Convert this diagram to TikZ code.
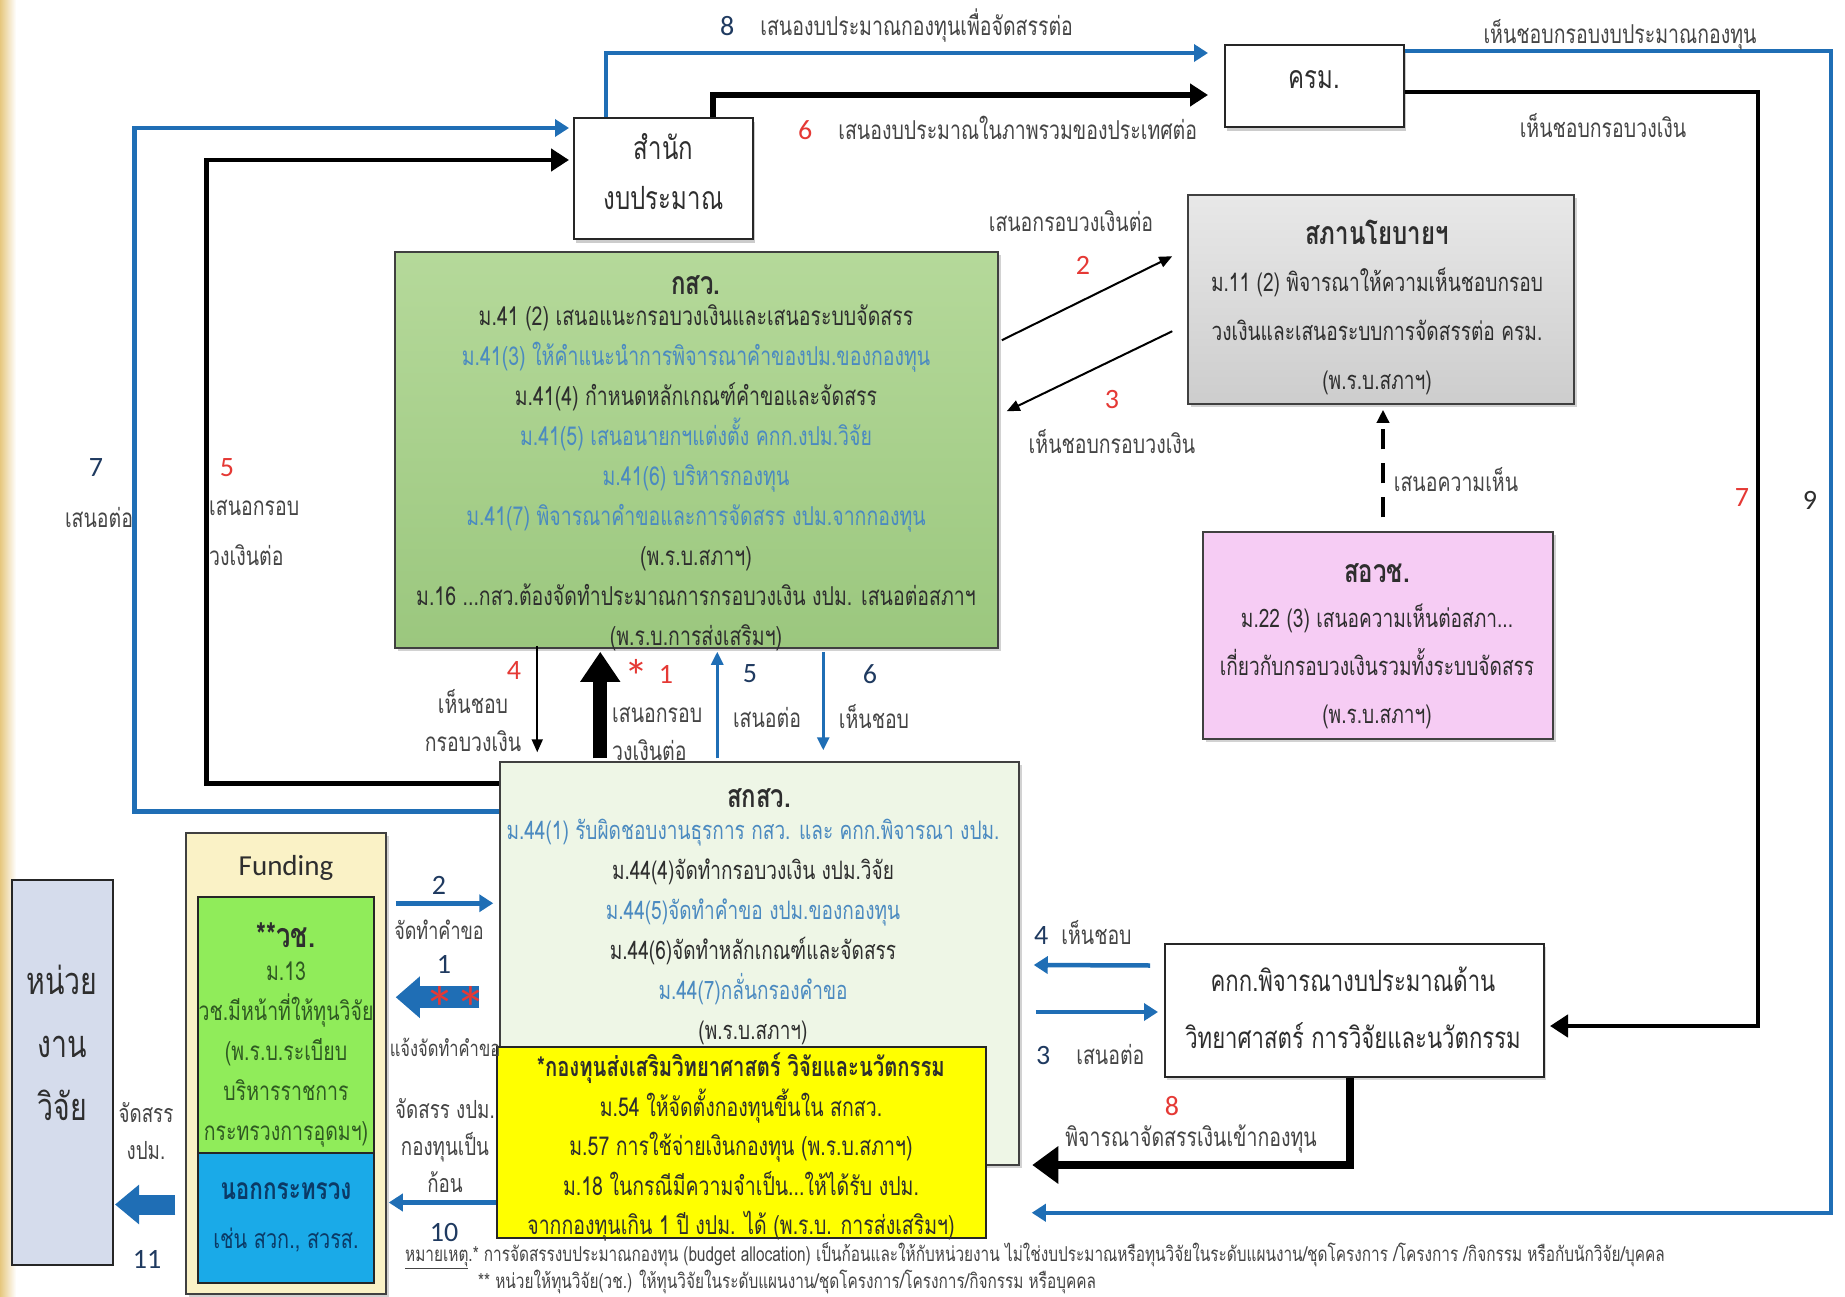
\documentclass[tikz,border=0pt]{standalone}
\usepackage{fontspec}
\setmainfont[Script=Thai,FakeStretch=0.75]{Loma}
\newfontfamily\lat{Carlito}
\usetikzlibrary{arrows.meta,calc,shadows}
\definecolor{lblue}{HTML}{1F6EB5}
\definecolor{tblue}{HTML}{4B8AC0}
\definecolor{tdark}{HTML}{2E2E2E}
\definecolor{tgray}{HTML}{454545}
\definecolor{tred}{HTML}{E53935}
\definecolor{tnavy}{HTML}{1F3A60}
\definecolor{kswtop}{HTML}{B5D99A}
\definecolor{kswbot}{HTML}{9BC77E}
\definecolor{graytop}{HTML}{E8E8E8}
\definecolor{graybot}{HTML}{CDCDCD}
\definecolor{pink1}{HTML}{F6CCF4}
\definecolor{pale}{HTML}{EEF6E6}
\definecolor{yel}{HTML}{FFFF00}
\definecolor{beige}{HTML}{FAF2C6}
\definecolor{wcgreen}{HTML}{90EC5A}
\definecolor{wctext}{HTML}{2F5A22}
\definecolor{nokblue}{HTML}{1AAAE8}
\definecolor{noktext}{HTML}{0B3A66}
\definecolor{lav}{HTML}{D5DCEC}
\definecolor{gold}{HTML}{E6C77E}
\tikzset{
  boxbase/.style={draw=black!75, line width=1.5pt, inner sep=0pt,
    drop shadow={shadow xshift=3pt,shadow yshift=-3pt,opacity=0.35}},
  flatbox/.style={draw=black!85, line width=2pt, inner sep=0pt},
  body/.style={font=\fontsize{26}{40}\selectfont, text=tdark, align=center, inner sep=0pt},
  ttl/.style={font=\bfseries\fontsize{32}{34}\selectfont, text=tdark, align=center, inner sep=0pt},
  lbl/.style={font=\fontsize{26}{38}\selectfont, text=tgray, align=center, inner sep=0pt},
  num/.style={font=\lat\fontsize{28}{30}\selectfont, inner sep=0pt},
  bl/.style={draw=lblue, line width=4.5pt, -{Triangle[length=14pt,width=17pt]}},
  bk/.style={draw=black, line width=6.5pt, -{Triangle[length=18pt,width=22pt]}},
  thinarr/.style={draw=black, line width=2pt, -{Triangle[length=13pt,width=11pt]}},
  starnode/.style={text=tred, inner sep=0pt, anchor=base, text height=0pt, text depth=0pt},
}
\begin{document}
\begin{tikzpicture}[x=1pt,y=-1pt]
\useasboundingbox (0,0) rectangle (1845,1297);
\fill[white] (0,0) rectangle (1845,1297);
\shade[left color=gold, right color=white] (0,0) rectangle (16,1297);

% ---------- boxes ----------
\node[flatbox, fill=white, minimum width=179pt, minimum height=121pt,
  drop shadow={shadow xshift=2pt,shadow yshift=-4pt,opacity=0.4}] (sumnak) at (663.5,178.5) {};
\node[flatbox, fill=white, minimum width=179pt, minimum height=82pt,
  drop shadow={shadow xshift=2pt,shadow yshift=-4pt,opacity=0.4}] (krm) at (1314.5,86) {};
\node[boxbase, top color=graytop, bottom color=graybot, minimum width=386pt, minimum height=209pt] (sapha) at (1381,299.5) {};
\node[boxbase, top color=kswtop, bottom color=kswbot, minimum width=603pt, minimum height=396pt] (ksw) at (696.5,450) {};
\node[boxbase, fill=pink1, minimum width=350pt, minimum height=207pt] (sorwor) at (1378,635.5) {};
\node[boxbase, fill=pale, minimum width=519pt, minimum height=403pt] (soksw) at (759.5,963.5) {};
\node[flatbox, fill=yel, line width=2.5pt, minimum width=489pt, minimum height=191pt] (yellow) at (741.5,1142.5) {};
\node[flatbox, fill=white, minimum width=379pt, minimum height=133pt,
  drop shadow={shadow xshift=2pt,shadow yshift=-3pt,opacity=0.3}] (kkk) at (1354.5,1010.5) {};
\node[boxbase, fill=beige, minimum width=200pt, minimum height=461pt] (funding) at (286,1063.5) {};
\node[flatbox, fill=wcgreen, minimum width=176pt, minimum height=256pt] (wc) at (286,1025) {};
\node[flatbox, fill=nokblue, minimum width=176pt, minimum height=130pt] (nok) at (286,1218) {};
\node[flatbox, fill=lav, minimum width=101pt, minimum height=385pt] (nuay) at (62.5,1072.5) {};

% ---------- box texts ----------
\node[font=\fontsize{32}{50}\selectfont, text=tdark, align=center, inner sep=0pt] (sumnak-t) at (663.5,172) {สำนัก\\งบประมาณ};
\node[font=\fontsize{32}{34}\selectfont, text=tdark, inner sep=0pt] (krm-t) at (1314,80) {ครม.};

\node[ttl] (ksw-h) at (696,285) {กสว.};
\node[body] (ksw-t) at (696,478) {ม.41 (2) เสนอแนะกรอบวงเงินและเสนอระบบจัดสรร\\
{\color{tblue}ม.41(3) ให้คำแนะนำการพิจารณาคำของปม.ของกองทุน}\\
ม.41(4) กำหนดหลักเกณฑ์คำขอและจัดสรร\\
{\color{tblue}ม.41(5) เสนอนายกฯแต่งตั้ง คกก.งปม.วิจัย}\\
{\color{tblue}ม.41(6) บริหารกองทุน}\\
{\color{tblue}ม.41(7) พิจารณาคำขอและการจัดสรร งปม.จากกองทุน}\\
(พ.ร.บ.สภาฯ)\\
ม.16 ...กสว.ต้องจัดทำประมาณการกรอบวงเงิน งปม. เสนอต่อสภาฯ\\
(พ.ร.บ.การส่งเสริมฯ)};

\node[ttl] (sapha-h) at (1377,232) {สภานโยบายฯ};
\node[body, font=\fontsize{25.5}{49}\selectfont] (sapha-t) at (1377,331) {ม.11 (2) พิจารณาให้ความเห็นชอบกรอบ\\วงเงินและเสนอระบบการจัดสรรต่อ ครม.\\(พ.ร.บ.สภาฯ)};

\node[ttl] (sorwor-h) at (1377,573) {สอวช.};
\node[body, font=\fontsize{25.5}{48}\selectfont] (sorwor-t) at (1377,666) {ม.22 (3) เสนอความเห็นต่อสภา...\\เกี่ยวกับกรอบวงเงินรวมทั้งระบบจัดสรร\\(พ.ร.บ.สภาฯ)};

\node[ttl] (soksw-h) at (759,798) {สกสว.};
\node[body, font=\fontsize{25.4}{40}\selectfont] (soksw-t) at (753,932) {{\color{tblue}ม.44(1) รับผิดชอบงานธุรการ กสว. และ คกก.พิจารณา งปม.}\\
ม.44(4)จัดทำกรอบวงเงิน งปม.วิจัย\\
{\color{tblue}ม.44(5)จัดทำคำขอ งปม.ของกองทุน}\\
ม.44(6)จัดทำหลักเกณฑ์และจัดสรร\\
{\color{tblue}ม.44(7)กลั่นกรองคำขอ}\\
(พ.ร.บ.สภาฯ)};

\node[ttl, font=\bfseries\fontsize{27}{30}\selectfont] (yellow-h) at (741,1068) {*กองทุนส่งเสริมวิทยาศาสตร์ วิจัยและนวัตกรรม};
\node[body, font=\fontsize{26}{39.5}\selectfont] (yellow-t) at (741,1165) {ม.54 ให้จัดตั้งกองทุนขึ้นใน สกสว.\\
ม.57 การใช้จ่ายเงินกองทุน (พ.ร.บ.สภาฯ)\\
ม.18 ในกรณีมีความจำเป็น...ให้ได้รับ งปม.\\
จากกองทุนเกิน 1 ปี งปม. ได้ (พ.ร.บ. การส่งเสริมฯ)};

\node[font=\lat\fontsize{29}{30}\selectfont, text=tdark, inner sep=0pt] (funding-t) at (286,868) {Funding};
\node[ttl, font=\bfseries\fontsize{34}{34}\selectfont] (wc-h) at (286,935) {**วช.};
\node[body, text=wctext, font=\fontsize{26}{40}\selectfont] (wc-t) at (286,1055) {ม.13\\วช.มีหน้าที่ให้ทุนวิจัย\\(พ.ร.บ.ระเบียบ\\บริหารราชการ\\กระทรวงการอุดมฯ)};
\node[ttl, text=noktext, font=\bfseries\fontsize{30}{30}\selectfont] (nok-h) at (286,1191) {นอกกระทรวง};
\node[body, text=noktext, font=\fontsize{26.5}{30}\selectfont] (nok-t) at (286,1240) {เช่น สวก., สวรส.};

\node[font=\fontsize{38}{63}\selectfont, text=tdark, align=center, inner sep=0pt] (nuay-t) at (62,1043) {หน่วย\\งาน\\วิจัย};
\node[font=\fontsize{29.5}{57}\selectfont, text=tdark, align=center, inner sep=0pt] (kkk-t) at (1353,1008) {คกก.พิจารณางบประมาณด้าน\\วิทยาศาสตร์ การวิจัยและนวัตกรรม};

% ---------- connectors ----------
\draw[bl] ($(sumnak.north west)+(33,0)$) |- ($(krm.north west)+(-16,9)$);
\draw[bk] ($(sumnak.north west)+(140,0)$) |- ($(krm.north west)+(-16,51)$);
\draw[bl] ($(soksw.north west)+(0,50)$) -- ($(soksw.north west)+(-365,50)$) |- ($(sumnak.north west)+(-4,11)$);
\draw[bk, line width=4.5pt] ($(soksw.north west)+(0,22)$) -- ($(soksw.north west)+(-293,22)$) |- ($(sumnak.north west)+(-4,43)$);
\draw[bl] ($(krm.north east)+(0,7)$) -- ($(krm.north east)+(426,7)$) |- ($(soksw.south east)+(12,47)$);
\draw[bk, line width=4.5pt] ($(krm.east)+(0,6)$) -- ($(krm.east)+(353,6)$) |- ($(kkk.east)+(5,15.5)$);

\draw[thinarr] ($(ksw.north east)+(3,89)$) -- ($(sapha.north west)+(-15,62)$);
\draw[thinarr] ($(sapha.north west)+(-15,137)$) -- ($(ksw.north east)+(8,160)$);
\draw[draw=black, line width=4pt, dash pattern=on 20pt off 14pt, -{Triangle[length=13pt,width=12pt]}] ($(sorwor.north)+(5,-14)$) -- ($(sapha.south)+(2,5)$);

\draw[thinarr] ($(ksw.south west)+(143,-3)$) -- ($(soksw.north west)+(38,-9)$);
\draw[draw=black, line width=14pt, -{Triangle[length=30pt,width=38pt]}] ($(soksw.north west)+(101,-3)$) -- ($(ksw.south west)+(206,3)$);
\draw[draw=lblue, line width=3pt, -{Triangle[length=13pt,width=12pt]}] ($(soksw.north west)+(218,-3)$) -- ($(ksw.south west)+(323,3)$);
\draw[draw=lblue, line width=3pt, -{Triangle[length=13pt,width=12pt]}] ($(ksw.south west)+(429,3)$) -- ($(soksw.north west)+(324,-11)$);

\draw[bl] ($(funding.north east)+(9,71)$) -- ($(soksw.north west)+(-6,142)$);
\draw[draw=lblue, line width=22pt, -{Triangle[length=24pt,width=40pt]}] ($(soksw.north west)+(-20,236)$) -- ($(funding.north east)+(9,165)$);
\draw[bl] ($(yellow.west)+(0,60)$) -- ($(funding.east)+(2,139)$);
\draw[draw=lblue, line width=20pt, -{Triangle[length=24pt,width=38pt]}] ($(funding.west)+(-10,141)$) -- ($(nuay.east)+(1,132)$);

\draw[bl] ($(kkk.west)+(-14,-45)$) -- ($(soksw.east)+(14,1.5)$);
\draw[bl] ($(soksw.east)+(16,48.5)$) -- ($(kkk.west)+(-6,1.5)$);
\draw[draw=black, line width=8pt, -{Triangle[length=26pt,width=36pt]}] ($(kkk.south west)+(186,0)$) |- ($(yellow.east)+(45,22.5)$);

% ---------- labels ----------
\node[lbl, anchor=west] (l8top) at (720,26) {{\lat\fontsize{28}{30}\selectfont\color{tnavy}8}\quad เสนองบประมาณกองทุนเพื่อจัดสรรต่อ};
\node[lbl, anchor=west] (l6top) at (798,128) {{\lat\fontsize{28}{30}\selectfont\color{tred}6}\quad เสนองบประมาณในภาพรวมของประเทศต่อ};
\node[lbl] (l9txt) at (1620,35) {เห็นชอบกรอบงบประมาณกองทุน};
\node[lbl] (l7txt) at (1603,126) {เห็นชอบกรอบวงเงิน};
\node[num, text=tred] (n7r) at (1742,498) {7};
\node[num, text=tdark] (n9r) at (1810,500) {9};

\node[num, text=tnavy] (n7l) at (96,468) {7};
\node[lbl] (l7l) at (99,518) {เสนอต่อ};
\node[num, text=tred] (n5l) at (227,468) {5};
\node[lbl, anchor=north west, align=left, font=\fontsize{26}{50}\selectfont] (l5l) at (209,500) {เสนอกรอบ\\วงเงินต่อ};

\node[lbl] (l2a) at (1071,221) {เสนอกรอบวงเงินต่อ};
\node[num, text=tred] (n2a) at (1083,265) {2};
\node[num, text=tred] (n3a) at (1112,400) {3};
\node[lbl] (l3a) at (1112,442) {เห็นชอบกรอบวงเงิน};
\node[lbl] (lsor) at (1456,480) {เสนอความเห็น};

\node[num, text=tred] (n4m) at (514,671) {4};
\node[lbl] (l4m) at (473,721) {เห็นชอบ\\กรอบวงเงิน};
\node[starnode, font=\lat\fontsize{48}{48}\selectfont] (star1) at (636,693) {*};
\node[num, text=tred] (n1m) at (666,674) {1};
\node[lbl, anchor=north west, align=left] (l1m) at (612,707) {เสนอกรอบ\\วงเงินต่อ};
\node[num, text=tnavy] (n5m) at (750,674) {5};
\node[lbl] (l5m) at (767,717) {เสนอต่อ};
\node[num, text=tnavy] (n6m) at (870,674) {6};
\node[lbl] (l6m) at (874,717) {เห็นชอบ};

\node[num, text=tnavy] (n2f) at (439,885) {2};
\node[lbl, font=\fontsize{24}{30}\selectfont] (l2f) at (439,930) {จัดทำคำขอ};
\node[num, text=tnavy] (n1f) at (444,964) {1};
\node[starnode, font=\lat\fontsize{62}{62}\selectfont] (star2) at (455,1030) {**};
\node[lbl, font=\fontsize{22}{30}\selectfont] (l1f) at (445,1047) {แจ้งจัดทำคำขอ};
\node[lbl, font=\fontsize{25}{37}\selectfont] (l10f) at (445,1146) {จัดสรร งปม.\\กองทุนเป็น\\ก้อน};
\node[num, text=tnavy] (n10f) at (444,1233) {10};
\node[lbl, font=\fontsize{25}{37}\selectfont] (l11f) at (146,1131) {จัดสรร\\งปม.};
\node[num, text=tnavy] (n11f) at (147,1259) {11};

\node[lbl, anchor=west] (l4k) at (1034,933) {{\lat\fontsize{28}{30}\selectfont\color{tnavy}4}\enspace เห็นชอบ};
\node[lbl, anchor=west] (l3k) at (1036,1055) {{\lat\fontsize{28}{30}\selectfont\color{tnavy}3}\quad เสนอต่อ};
\node[num, text=tred] (n8k) at (1172,1106) {8};
\node[lbl] (l8k) at (1191,1139) {พิจารณาจัดสรรเงินเข้ากองทุน};

\node[font=\fontsize{20.5}{20}\selectfont, text=tgray, anchor=west, inner sep=0pt] (note1) at (405,1256) {\underline{หมายเหตุ}.* การจัดสรรงบประมาณกองทุน (budget allocation) เป็นก้อนและให้กับหน่วยงาน ไม่ใช่งบประมาณหรือทุนวิจัยในระดับแผนงาน/ชุดโครงการ /โครงการ /กิจกรรม หรือกับนักวิจัย/บุคคล};
\node[font=\fontsize{20.5}{20}\selectfont, text=tgray, anchor=west, inner sep=0pt] (note2) at (478,1282) {** หน่วยให้ทุนวิจัย(วช.) ให้ทุนวิจัยในระดับแผนงาน/ชุดโครงการ/โครงการ/กิจกรรม หรือบุคคล};
\end{tikzpicture}
\end{document}
